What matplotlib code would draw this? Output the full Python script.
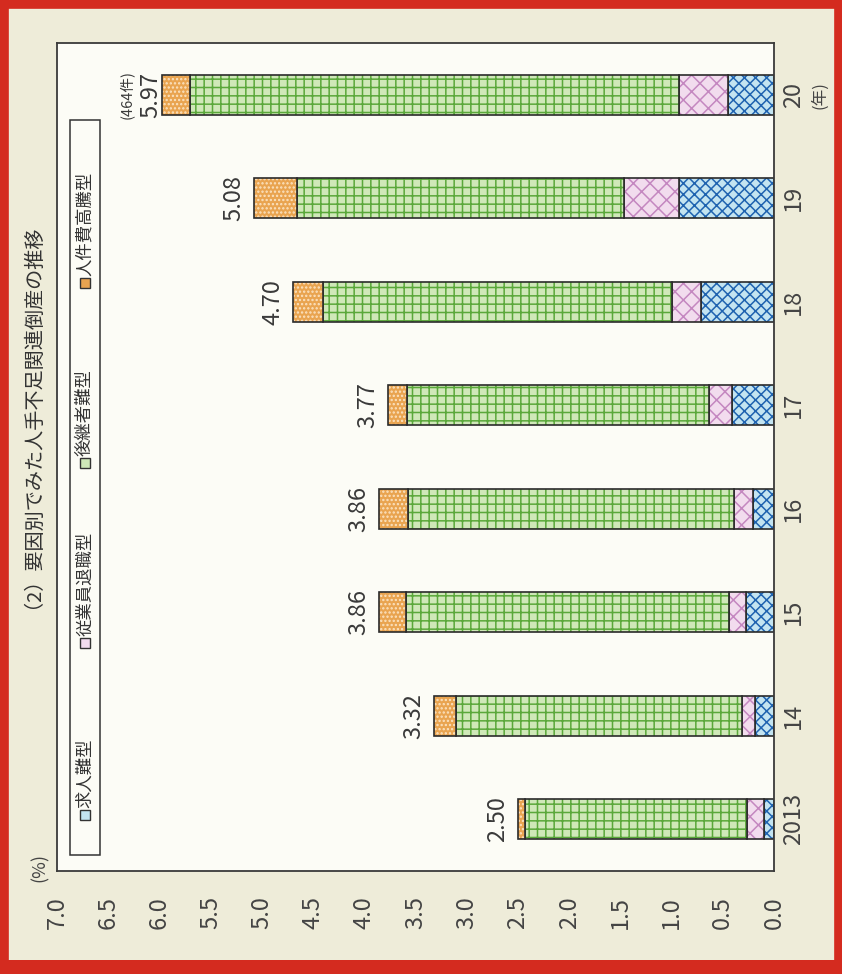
import numpy as np
import matplotlib.pyplot as plt
from matplotlib.patches import Rectangle

plt.rcParams['font.family'] = ['Noto Sans CJK JP', 'DejaVu Sans']
plt.rcParams['hatch.linewidth'] = 1.1

# data (%)
years = ['2013', '14', '15', '16', '17', '18', '19', '20']
totals = [2.50, 3.32, 3.86, 3.86, 3.77, 4.70, 5.08, 5.97]
kyujin = [0.10, 0.19, 0.27, 0.20, 0.41, 0.71, 0.93, 0.45]      # 求人難型
taishoku = [0.16, 0.12, 0.17, 0.19, 0.22, 0.29, 0.53, 0.48]    # 従業員退職型
koukeisha = [2.17, 2.79, 3.15, 3.18, 2.95, 3.40, 3.20, 4.77]   # 後継者難型
jinkenhi = [0.07, 0.22, 0.27, 0.29, 0.19, 0.30, 0.42, 0.27]    # 人件費高騰型
series_names = ['求人難型', '従業員退職型', '後継者難型', '人件費高騰型']
note_last = '(464件)'

# face colour, hatch colour, hatch
styles = [('#c3e4f1', '#1f63b0', 'xxx'),
          ('#f2dcee', '#c487c0', 'xx'),
          ('#cfe8b8', '#5aa83a', '++'),
          ('#e9a450', '#fbe3c2', '....')]

fig = plt.figure(figsize=(8.42, 9.74), dpi=100, facecolor='#eeecd9')
ax = fig.add_axes([0.0677, 0.1057, 0.8515, 0.8501], facecolor='#fcfcf6')

y = list(range(len(years)))
left = [0.0] * len(years)
for vals, (face, hcol, hatch) in zip([kyujin, taishoku, koukeisha, jinkenhi], styles):
    ax.barh(y, vals, left=left, height=0.39, color=face, edgecolor=hcol,
            hatch=hatch, linewidth=0)
    ax.barh(y, vals, left=left, height=0.39, fill=False,
            edgecolor='#2b2b2b', linewidth=1.2)
    left = [a + b for a, b in zip(left, vals)]

# total labels
for i, t in enumerate(totals):
    off = 0 if i == len(totals) - 1 else -6
    ax.annotate(f'{t:.2f}', (t, i), xytext=(off, 0), textcoords='offset points',
                rotation=90, ha='right', va='center', fontsize=17, color='#3a3a3a')
ax.annotate(note_last, (totals[-1], y[-1]), xytext=(-21, 0), textcoords='offset points',
            rotation=90, ha='right', va='center', fontsize=10.5, color='#3a3a3a')

ticks = np.arange(0, 7.01, 0.5)
ax.set_xlim(7, 0)
ax.set_xticks(ticks)
ax.set_xticklabels([f'{v:.1f}' for v in ticks], rotation=90, fontsize=17, color='#444444')
ax.tick_params(axis='x', length=0, pad=18)

ax.set_ylim(-0.5, 7.5)
ax.yaxis.tick_right()
ax.set_yticks(y)
ax.set_yticklabels(years, rotation=90, va='center', fontsize=17, color='#444444')
ax.tick_params(axis='y', length=0, pad=6)

for s in ax.spines.values():
    s.set_color('#3a3a3a')
    s.set_linewidth(1.3)

# legend (rotated, drawn by hand)
ax.add_patch(Rectangle((0.018, 0.019), 0.042, 0.888, transform=ax.transAxes,
                       facecolor='#fcfcf6', edgecolor='#333333', lw=1.1, zorder=3))
icon_y = [0.0676, 0.2754, 0.4928, 0.7101]
iw, ih = 10 / 717, 10 / 828
for name, (face, hcol, hatch), yy in zip(series_names, styles, icon_y):
    ax.add_patch(Rectangle((0.039 - iw / 2, yy - ih / 2), iw, ih, transform=ax.transAxes,
                           facecolor=face, edgecolor='#333333', lw=1.0, zorder=4))
    ax.text(0.039, yy + ih / 2 + 0.003, name, transform=ax.transAxes, rotation=90,
            ha='center', va='bottom', fontsize=12.5, color='#333333', zorder=4)

fig.text(22 / 842, 1 - 411 / 974, '（2）要因別でみた人手不足関連倒産の推移', rotation=90,
         ha='center', va='center', fontsize=14.5, color='#333333')
fig.text(40 / 842, 1 - 867 / 974, '(%)', rotation=90, ha='center', va='center',
         fontsize=13, color='#444444')
fig.text(820 / 842, 1 - 95 / 974, '(年)', rotation=90, ha='center', va='center',
         fontsize=12, color='#444444')

# red frame
fig.add_artist(Rectangle((0, 0), 1, 1, transform=fig.transFigure, fill=False,
                         edgecolor='#d42b1f', lw=12, zorder=10))
fig.add_artist(Rectangle((0, 0), 1, 14 / 974, transform=fig.transFigure,
                         facecolor='#d42b1f', edgecolor='none', zorder=10))

fig.savefig('out.png', dpi=100, facecolor=fig.get_facecolor())
